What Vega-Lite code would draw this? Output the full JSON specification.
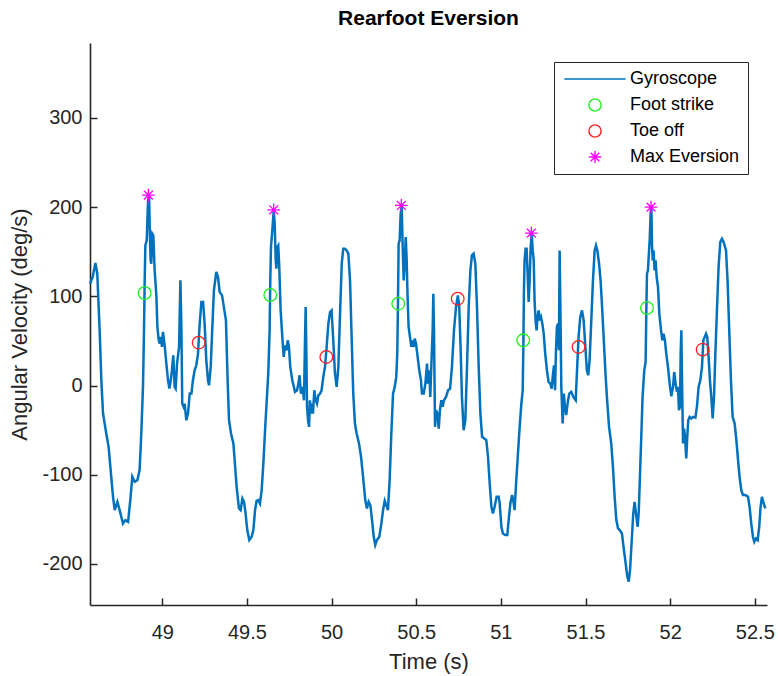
{
  "$schema": "https://vega.github.io/schema/vega-lite/v6.json",
  "width": 677,
  "height": 562,
  "autosize": {"type": "none"},
  "padding": {"left": 90, "top": 43, "right": 11, "bottom": 71},
  "background": "white",
  "title": {"text": "Rearfoot Eversion", "fontSize": 21, "fontWeight": "bold", "font": "Liberation Sans", "color": "#000000", "anchor": "middle", "offset": 14},
  "config": {
    "view": {"stroke": null},
    "font": "Liberation Sans",
    "axis": {
      "grid": false,
      "domainColor": "#262626",
      "domainWidth": 1.6,
      "ticks": true,
      "tickColor": "#262626",
      "tickWidth": 1.5,
      "tickSize": -7,
      "labelFontSize": 20,
      "labelColor": "#262626",
      "labelFont": "Liberation Sans",
      "titleFont": "Liberation Sans",
      "titleFontSize": 22,
      "titleFontWeight": "normal",
      "titleColor": "#262626"
    }
  },
  "datasets": {
    "gyro": [
      {"t":48.573,"v":114.2},{"t":48.589,"v":121.7},{"t":48.605,"v":137.3},{"t":48.616,"v":125.4},{"t":48.630,"v":61.9},{"t":48.640,"v":5.9},{"t":48.650,"v":-31.4},{"t":48.669,"v":-53.8},{"t":48.683,"v":-68.7},{"t":48.695,"v":-94.8},{"t":48.709,"v":-124.7},{"t":48.719,"v":-139.6},{"t":48.735,"v":-130.3},{"t":48.748,"v":-139.6},{"t":48.768,"v":-154.6},{"t":48.782,"v":-150.8},{"t":48.798,"v":-152.7},{"t":48.811,"v":-128.4},{"t":48.823,"v":-102.3},{"t":48.837,"v":-107.9},{"t":48.853,"v":-106.0},{"t":48.866,"v":-94.8},{"t":48.876,"v":-53.8},{"t":48.886,"v":-1.5},{"t":48.892,"v":61.9},{"t":48.896,"v":117.9},{"t":48.900,"v":157.1},{"t":48.908,"v":162.7},{"t":48.916,"v":207.5},{"t":48.922,"v":213.1},{"t":48.926,"v":173.9},{"t":48.931,"v":140.3},{"t":48.935,"v":136.6},{"t":48.941,"v":170.2},{"t":48.947,"v":168.3},{"t":48.955,"v":129.1},{"t":48.965,"v":101.1},{"t":48.971,"v":65.7},{"t":48.979,"v":50.7},{"t":48.985,"v":47.0},{"t":48.992,"v":54.5},{"t":48.998,"v":43.3},{"t":49.004,"v":60.1},{"t":49.014,"v":45.1},{"t":49.024,"v":24.6},{"t":49.034,"v":5.9},{"t":49.042,"v":-3.4},{"t":49.050,"v":5.9},{"t":49.057,"v":17.1},{"t":49.065,"v":33.9},{"t":49.073,"v":-1.5},{"t":49.079,"v":-3.4},{"t":49.087,"v":24.6},{"t":49.093,"v":33.9},{"t":49.099,"v":43.3},{"t":49.107,"v":117.9},{"t":49.113,"v":61.9},{"t":49.118,"v":-20.2},{"t":49.126,"v":-23.9},{"t":49.132,"v":-20.2},{"t":49.142,"v":-38.9},{"t":49.152,"v":-31.4},{"t":49.162,"v":-9.0},{"t":49.172,"v":-9.0},{"t":49.181,"v":5.9},{"t":49.191,"v":17.1},{"t":49.201,"v":22.7},{"t":49.211,"v":35.8},{"t":49.221,"v":69.4},{"t":49.231,"v":93.7},{"t":49.241,"v":93.7},{"t":49.250,"v":69.4},{"t":49.260,"v":28.3},{"t":49.270,"v":5.9},{"t":49.276,"v":0.3},{"t":49.286,"v":20.9},{"t":49.294,"v":58.2},{"t":49.305,"v":106.7},{"t":49.319,"v":127.3},{"t":49.329,"v":121.7},{"t":49.339,"v":104.9},{"t":49.353,"v":101.1},
      {"t":49.376,"v":73.1},{"t":49.386,"v":5.9},{"t":49.394,"v":-38.9},{"t":49.406,"v":-53.8},{"t":49.420,"v":-65.0},{"t":49.429,"v":-87.4},{"t":49.439,"v":-113.5},{"t":49.453,"v":-137.8},{"t":49.463,"v":-139.6},{"t":49.473,"v":-126.6},{"t":49.483,"v":-130.3},{"t":49.492,"v":-143.4},{"t":49.502,"v":-162.0},{"t":49.514,"v":-173.2},{"t":49.528,"v":-169.5},{"t":49.538,"v":-162.0},{"t":49.548,"v":-139.6},{"t":49.557,"v":-129.2},{"t":49.567,"v":-128.4},{"t":49.577,"v":-132.2},{"t":49.587,"v":-117.2},{"t":49.597,"v":-87.4},{"t":49.607,"v":-50.1},{"t":49.617,"v":-16.5},{"t":49.626,"v":13.4},{"t":49.634,"v":61.9},{"t":49.638,"v":117.9},{"t":49.642,"v":155.3},{"t":49.650,"v":173.9},{"t":49.658,"v":196.3},{"t":49.664,"v":181.4},{"t":49.670,"v":140.3},{"t":49.674,"v":131.0},{"t":49.679,"v":155.3},{"t":49.685,"v":157.1},{"t":49.691,"v":132.8},{"t":49.699,"v":84.3},{"t":49.709,"v":54.5},{"t":49.717,"v":32.1},{"t":49.725,"v":45.1},{"t":49.733,"v":39.5},{"t":49.741,"v":50.7},{"t":49.748,"v":43.3},{"t":49.756,"v":20.9},{"t":49.768,"v":5.9},{"t":49.784,"v":-7.1},{"t":49.796,"v":-5.3},{"t":49.804,"v":2.2},{"t":49.811,"v":11.5},{"t":49.819,"v":-9.0},{"t":49.829,"v":-1.5},{"t":49.837,"v":-16.5},{"t":49.843,"v":50.7},{"t":49.847,"v":88.1},{"t":49.851,"v":35.8},{"t":49.855,"v":-23.9},{"t":49.861,"v":-38.9},{"t":49.867,"v":-46.3},{"t":49.872,"v":-16.5},{"t":49.878,"v":-31.4},{"t":49.884,"v":-20.2},{"t":49.890,"v":-31.4},{"t":49.898,"v":-5.3},{"t":49.906,"v":-16.5},{"t":49.914,"v":-20.2},{"t":49.922,"v":-10.9},{"t":49.932,"v":-9.0},{"t":49.941,"v":-5.3},{"t":49.951,"v":9.7},{"t":49.961,"v":20.9},{"t":49.971,"v":43.3},{"t":49.981,"v":69.4},{"t":49.991,"v":82.5},{"t":50.000,"v":84.3},{"t":50.010,"v":50.7},{"t":50.020,"v":13.4},{"t":50.030,"v":-1.5},{"t":50.040,"v":20.9},{"t":50.050,"v":80.6},{"t":50.060,"v":136.6},{"t":50.069,"v":153.4},{"t":50.079,"v":153.4},{"t":50.089,"v":151.5},{"t":50.099,"v":147.8},{"t":50.109,"v":117.9},{"t":50.119,"v":50.7},{"t":50.128,"v":-9.0},{"t":50.138,"v":-42.6},{"t":50.148,"v":-53.8},{"t":50.162,"v":-65.0},{"t":50.174,"v":-79.9},{"t":50.186,"v":-102.3},
      {"t":50.199,"v":-128.4},{"t":50.209,"v":-137.8},{"t":50.219,"v":-130.3},{"t":50.229,"v":-134.0},{"t":50.239,"v":-150.8},{"t":50.249,"v":-169.5},{"t":50.258,"v":-178.8},{"t":50.268,"v":-173.2},{"t":50.282,"v":-169.5},{"t":50.294,"v":-154.6},{"t":50.304,"v":-139.6},{"t":50.314,"v":-129.2},{"t":50.323,"v":-134.0},{"t":50.333,"v":-139.6},{"t":50.343,"v":-106.0},{"t":50.353,"v":-53.8},{"t":50.363,"v":-9.0},{"t":50.373,"v":-1.5},{"t":50.382,"v":9.7},{"t":50.388,"v":35.8},{"t":50.392,"v":88.1},{"t":50.396,"v":159.0},{"t":50.402,"v":162.7},{"t":50.408,"v":192.6},{"t":50.414,"v":201.0},{"t":50.420,"v":155.3},{"t":50.426,"v":117.9},{"t":50.432,"v":136.6},{"t":50.438,"v":166.4},{"t":50.443,"v":144.0},{"t":50.449,"v":99.3},{"t":50.455,"v":65.7},{"t":50.463,"v":54.5},{"t":50.471,"v":43.3},{"t":50.477,"v":50.7},{"t":50.485,"v":43.3},{"t":50.491,"v":52.6},{"t":50.499,"v":46.9},{"t":50.506,"v":35.8},{"t":50.518,"v":17.1},{"t":50.528,"v":5.9},{"t":50.534,"v":-9.0},{"t":50.544,"v":-9.0},{"t":50.554,"v":2.2},{"t":50.564,"v":24.6},{"t":50.569,"v":2.2},{"t":50.577,"v":17.1},{"t":50.583,"v":-12.7},{"t":50.589,"v":20.9},{"t":50.597,"v":61.9},{"t":50.601,"v":103.0},{"t":50.605,"v":61.9},{"t":50.611,"v":-46.3},{"t":50.617,"v":-27.7},{"t":50.625,"v":-31.4},{"t":50.633,"v":-48.2},{"t":50.640,"v":-27.7},{"t":50.648,"v":-16.5},{"t":50.656,"v":-23.9},{"t":50.664,"v":-16.5},{"t":50.676,"v":-12.7},{"t":50.688,"v":-5.3},{"t":50.700,"v":-3.4},{"t":50.711,"v":20.9},{"t":50.723,"v":61.9},{"t":50.735,"v":88.1},{"t":50.746,"v":101.1},{"t":50.754,"v":88.1},{"t":50.762,"v":43.3},{"t":50.770,"v":-12.7},{"t":50.780,"v":-50.1},{"t":50.790,"v":-38.9},{"t":50.800,"v":20.9},{"t":50.810,"v":88.1},{"t":50.820,"v":129.1},{"t":50.829,"v":145.9},{"t":50.839,"v":147.8},{"t":50.849,"v":136.6},{"t":50.859,"v":88.1},{"t":50.869,"v":20.9},{"t":50.879,"v":-31.4},{"t":50.889,"v":-57.5},{"t":50.902,"v":-59.4},{"t":50.914,"v":-61.3},{"t":50.924,"v":-79.9},{"t":50.934,"v":-109.8},{"t":50.944,"v":-135.9},{"t":50.953,"v":-143.4},{"t":50.963,"v":-135.9},{"t":50.975,"v":-124.7},{"t":50.987,"v":-124.7},
      {"t":50.993,"v":-132.2},{"t":51.003,"v":-158.3},{"t":51.012,"v":-165.8},{"t":51.026,"v":-167.6},{"t":51.038,"v":-167.6},{"t":51.046,"v":-150.8},{"t":51.056,"v":-132.2},{"t":51.066,"v":-122.8},{"t":51.073,"v":-128.4},{"t":51.081,"v":-139.6},{"t":51.091,"v":-106.0},{"t":51.101,"v":-76.2},{"t":51.111,"v":-46.3},{"t":51.121,"v":-20.2},{"t":51.129,"v":-5.3},{"t":51.133,"v":47.0},{"t":51.136,"v":103.0},{"t":51.140,"v":140.3},{"t":51.146,"v":153.4},{"t":51.152,"v":153.4},{"t":51.158,"v":125.4},{"t":51.164,"v":93.7},{"t":51.170,"v":117.9},{"t":51.176,"v":155.3},{"t":51.182,"v":170.0},{"t":51.188,"v":151.5},{"t":51.194,"v":140.3},{"t":51.199,"v":95.5},{"t":51.205,"v":73.1},{"t":51.211,"v":61.9},{"t":51.217,"v":76.9},{"t":51.223,"v":84.3},{"t":51.229,"v":73.1},{"t":51.237,"v":76.9},{"t":51.245,"v":69.4},{"t":51.253,"v":58.2},{"t":51.262,"v":35.8},{"t":51.272,"v":17.1},{"t":51.282,"v":4.1},{"t":51.292,"v":2.2},{"t":51.300,"v":-3.4},{"t":51.308,"v":13.4},{"t":51.314,"v":22.7},{"t":51.320,"v":-5.3},{"t":51.325,"v":35.8},{"t":51.331,"v":65.7},{"t":51.337,"v":69.4},{"t":51.343,"v":39.5},{"t":51.347,"v":151.5},{"t":51.351,"v":95.5},{"t":51.357,"v":-1.5},{"t":51.365,"v":-42.6},{"t":51.372,"v":-9.0},{"t":51.378,"v":-23.9},{"t":51.386,"v":-33.2},{"t":51.394,"v":-20.2},{"t":51.404,"v":-9.0},{"t":51.416,"v":-7.1},{"t":51.428,"v":-12.7},{"t":51.442,"v":-16.5},{"t":51.449,"v":13.4},{"t":51.459,"v":54.5},{"t":51.469,"v":76.9},{"t":51.479,"v":84.3},{"t":51.489,"v":73.1},{"t":51.499,"v":43.3},{"t":51.508,"v":17.1},{"t":51.516,"v":11.5},{"t":51.524,"v":28.3},{"t":51.534,"v":73.1},{"t":51.544,"v":117.9},{"t":51.554,"v":151.5},{"t":51.562,"v":157.1},{"t":51.570,"v":151.5},{"t":51.580,"v":136.6},{"t":51.589,"v":117.9},{"t":51.599,"v":84.3},{"t":51.609,"v":47.0},{"t":51.619,"v":9.7},{"t":51.629,"v":-20.2},{"t":51.639,"v":-46.3},{"t":51.652,"v":-65.0},{"t":51.662,"v":-91.1},{"t":51.672,"v":-124.7},{"t":51.682,"v":-150.8},{"t":51.692,"v":-160.2},{"t":51.702,"v":-162.0},{"t":51.715,"v":-165.8},{"t":51.727,"v":-184.4},{"t":51.737,"v":-199.4},{"t":51.747,"v":-214.3},{"t":51.755,"v":-219.9},{"t":51.763,"v":-206.8},{"t":51.772,"v":-177.0},{"t":51.782,"v":-143.4},{"t":51.790,"v":-130.3},{"t":51.798,"v":-143.4},{"t":51.808,"v":-158.3},
      {"t":51.814,"v":-143.4},{"t":51.822,"v":-98.6},{"t":51.830,"v":-53.8},{"t":51.837,"v":-12.7},{"t":51.847,"v":17.1},{"t":51.855,"v":26.4},{"t":51.859,"v":80.6},{"t":51.863,"v":125.4},{"t":51.869,"v":129.1},{"t":51.873,"v":144.0},{"t":51.879,"v":162.7},{"t":51.885,"v":194.4},{"t":51.889,"v":200.0},{"t":51.893,"v":155.3},{"t":51.897,"v":140.3},{"t":51.902,"v":151.5},{"t":51.908,"v":129.1},{"t":51.914,"v":140.3},{"t":51.920,"v":121.7},{"t":51.928,"v":110.5},{"t":51.936,"v":80.6},{"t":51.946,"v":61.9},{"t":51.954,"v":50.7},{"t":51.961,"v":58.2},{"t":51.969,"v":50.7},{"t":51.977,"v":35.8},{"t":51.987,"v":20.9},{"t":51.997,"v":2.2},{"t":52.007,"v":-12.0},{"t":52.017,"v":-1.5},{"t":52.024,"v":15.2},{"t":52.032,"v":2.2},{"t":52.040,"v":-7.1},{"t":52.046,"v":-1.5},{"t":52.052,"v":-27.7},{"t":52.058,"v":-23.9},{"t":52.062,"v":35.8},{"t":52.066,"v":61.9},{"t":52.070,"v":5.9},{"t":52.076,"v":-65.0},{"t":52.082,"v":-48.2},{"t":52.088,"v":-57.5},{"t":52.095,"v":-81.8},{"t":52.101,"v":-57.5},{"t":52.107,"v":-38.9},{"t":52.115,"v":-35.1},{"t":52.125,"v":-37.0},{"t":52.135,"v":-35.1},{"t":52.149,"v":-35.9},{"t":52.158,"v":-23.9},{"t":52.168,"v":-1.5},{"t":52.178,"v":5.9},{"t":52.188,"v":20.9},{"t":52.196,"v":50.7},{"t":52.204,"v":54.5},{"t":52.212,"v":58.2},{"t":52.219,"v":54.5},{"t":52.227,"v":32.1},{"t":52.235,"v":5.9},{"t":52.243,"v":-12.7},{"t":52.251,"v":-36.9},{"t":52.259,"v":-12.7},{"t":52.267,"v":35.8},{"t":52.277,"v":88.1},{"t":52.286,"v":132.8},{"t":52.296,"v":160.8},{"t":52.306,"v":164.6},{"t":52.316,"v":160.8},{"t":52.330,"v":151.5},{"t":52.339,"v":117.9},{"t":52.349,"v":61.9},{"t":52.359,"v":5.9},{"t":52.369,"v":-35.1},{"t":52.381,"v":-42.6},{"t":52.391,"v":-61.3},{"t":52.401,"v":-83.7},{"t":52.410,"v":-102.3},{"t":52.420,"v":-117.2},{"t":52.430,"v":-122.8},{"t":52.444,"v":-122.8},{"t":52.460,"v":-124.7},{"t":52.469,"v":-135.9},{"t":52.479,"v":-154.6},{"t":52.489,"v":-169.5},{"t":52.497,"v":-175.1},{"t":52.507,"v":-171.4},{"t":52.517,"v":-173.2},{"t":52.526,"v":-158.3},{"t":52.534,"v":-135.9},{"t":52.542,"v":-124.7},{"t":52.550,"v":-130.3},{"t":52.562,"v":-137.8}
    ],
    "events": [
      {"t":48.896,"v":103.7,"event":"Foot strike"},
      {"t":49.638,"v":101.5,"event":"Foot strike"},
      {"t":50.394,"v":91.8,"event":"Foot strike"},
      {"t":51.132,"v":50.7,"event":"Foot strike"},
      {"t":51.863,"v":86.9,"event":"Foot strike"},
      {"t":49.215,"v":48.1,"event":"Toe off"},
      {"t":49.969,"v":32.1,"event":"Toe off"},
      {"t":50.745,"v":97.4,"event":"Toe off"},
      {"t":51.459,"v":43.3,"event":"Toe off"},
      {"t":52.192,"v":40.3,"event":"Toe off"},
      {"t":48.918,"v":213.5,"event":"Max Eversion"},
      {"t":49.658,"v":197.0,"event":"Max Eversion"},
      {"t":50.412,"v":201.9,"event":"Max Eversion"},
      {"t":51.180,"v":170.9,"event":"Max Eversion"},
      {"t":51.887,"v":200.0,"event":"Max Eversion"}
    ]
  },
  "encoding": {
    "x": {
      "field": "t", "type": "quantitative",
      "scale": {"domain": [48.573, 52.572], "nice": false, "zero": false},
      "axis": {"title": "Time (s)", "values": [49, 49.5, 50, 50.5, 51, 51.5, 52, 52.5], "labelExpr": "'' + datum.value", "labelPadding": 24, "titlePadding": 9}
    },
    "y": {
      "field": "v", "type": "quantitative",
      "scale": {"domain": [-246, 384], "nice": false, "zero": false},
      "axis": {"title": "Angular Velocity (deg/s)", "values": [-200, -100, 0, 100, 200, 300], "labelExpr": "'' + datum.value", "labelPadding": 15, "titlePadding": 10}
    }
  },
  "layer": [
    {
      "data": {"name": "gyro"},
      "mark": {"type": "line", "color": "#0072BD", "strokeWidth": 2.5, "interpolate": "linear"}
    },
    {
      "data": {"name": "events"},
      "mark": {"type": "point", "filled": false, "strokeWidth": 1.3, "size": 160, "opacity": 1},
      "encoding": {
        "color": {
          "field": "event", "type": "nominal",
          "scale": {"domain": ["Gyroscope", "Foot strike", "Toe off", "Max Eversion"], "range": ["#0072BD", "#1FEE1F", "#FF2020", "#FF00FF"]},
          "legend": {
            "title": null, "orient": "none", "legendX": 464, "legendY": 19,
            "padding": 8, "strokeColor": "#262626", "fillColor": "white",
            "symbolOffset": 24, "labelOffset": 26, "symbolSize": 150, "symbolStrokeWidth": 1.4,
            "labelFontSize": 18, "labelColor": "#000000", "labelFont": "Liberation Sans", "rowPadding": 8
          }
        },
        "shape": {
          "field": "event", "type": "nominal",
          "scale": {"domain": ["Gyroscope", "Foot strike", "Toe off", "Max Eversion"], "range": ["M-5,0L5,0", "circle", "circle", "M0,-1L0,1M-1,0L1,0M-0.7,-0.7L0.7,0.7M-0.7,0.7L0.7,-0.7"]},
          "legend": {
            "title": null, "orient": "none", "legendX": 464, "legendY": 19,
            "padding": 8, "strokeColor": "#262626", "fillColor": "white",
            "symbolOffset": 24, "labelOffset": 26, "symbolSize": 150, "symbolStrokeWidth": 1.4,
            "labelFontSize": 18, "labelColor": "#000000", "labelFont": "Liberation Sans", "rowPadding": 8
          }
        }
      }
    }
  ]
}
